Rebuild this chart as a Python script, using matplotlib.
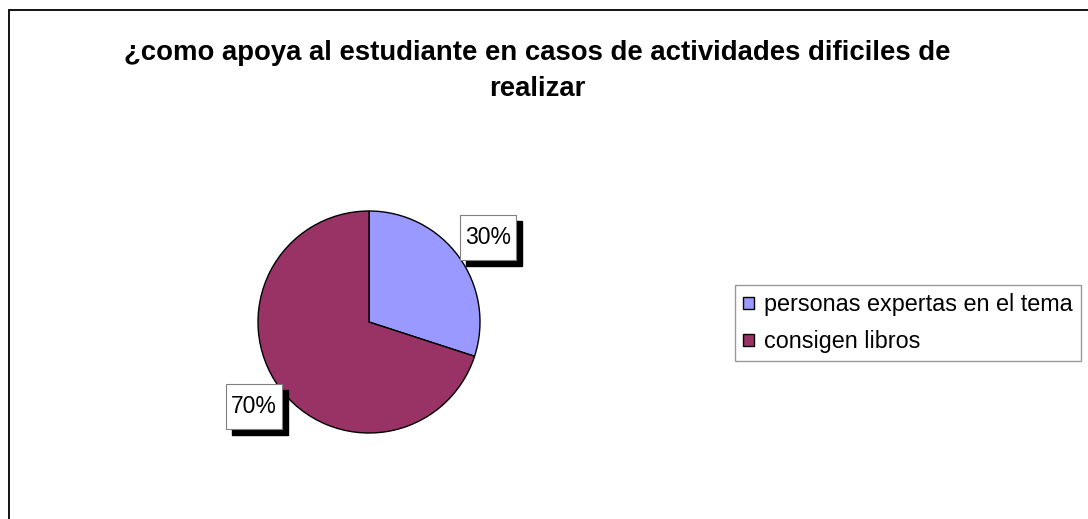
import matplotlib.pyplot as plt
from matplotlib.patches import Rectangle
from matplotlib.transforms import ScaledTranslation
import numpy as np

plt.rcParams['font.family'] = ['Liberation Sans', 'DejaVu Sans']

TITLE = "¿como apoya al estudiante en casos de actividades dificiles de\nrealizar"
categories = ['personas expertas en el tema', 'consigen libros']
values = [30, 70]
colors = ['#9999FF', '#993366']

W, H = 1088, 519
fig = plt.figure(figsize=(W / 100, H / 100), dpi=100)

# outer chart border (runs off the right and bottom edges)
fig.patches.append(Rectangle((9 / W, -0.1), 1.2, 1.1 - 10 / H, transform=fig.transFigure,
                             fill=False, edgecolor='black', linewidth=1.3))

fig.text(537 / W, 1 - 71 / H, TITLE, ha='center', va='center', fontsize=19.8,
         fontweight='bold', linespacing=1.5)

# pie axes: center (369, 322), radius 111 px
r = 111
ax = fig.add_axes([(369 - r) / W, (H - 322 - r) / H, 2 * r / W, 2 * r / H])
wedges, _ = ax.pie(values, colors=colors, startangle=90, counterclock=False,
                   radius=1, wedgeprops=dict(edgecolor='black', linewidth=1.0))
ax.set_xlim(-1, 1)
ax.set_ylim(-1, 1)
ax.set_aspect('equal')
ax.axis('off')

# percentage labels in boxes with a drop shadow
bw, bh, sh, dx = 0.56, 0.45, 0.06, 0.02
total = sum(values)
for w, v in zip(wedges, values):
    ang = np.deg2rad((w.theta1 + w.theta2) / 2)
    x, y = 1.3 * np.cos(ang), 1.3 * np.sin(ang)
    tr = fig.dpi_scale_trans + ScaledTranslation(x, y, ax.transData)
    ax.add_patch(Rectangle((-bw / 2 + sh + dx, -bh / 2 - sh), bw, bh, transform=tr,
                           facecolor='black', edgecolor='black', clip_on=False, zorder=5))
    ax.add_patch(Rectangle((-bw / 2 + dx, -bh / 2), bw, bh, transform=tr,
                           facecolor='white', edgecolor='#808080', linewidth=0.8,
                           clip_on=False, zorder=6))
    ax.text(x, y, '%d%%' % round(100 * v / total), ha='center', va='center',
            fontsize=16.5, zorder=7, clip_on=False,
            transform=ax.transData + ScaledTranslation(dx, 0, fig.dpi_scale_trans))

leg = fig.legend(wedges, categories, loc='upper left',
                 bbox_to_anchor=(735 / W, 1 - 285 / H), borderaxespad=0,
                 fontsize=16.8, frameon=True, fancybox=False, edgecolor='#808080',
                 handlelength=0.45, handleheight=0.45, handletextpad=0.45,
                 labelspacing=0.6, borderpad=0.35)
leg.get_frame().set_linewidth(1.0)
for p in leg.get_patches():
    p.set_linewidth(1.0)
    p.set_edgecolor('black')

fig.savefig('out.png', dpi=100)
